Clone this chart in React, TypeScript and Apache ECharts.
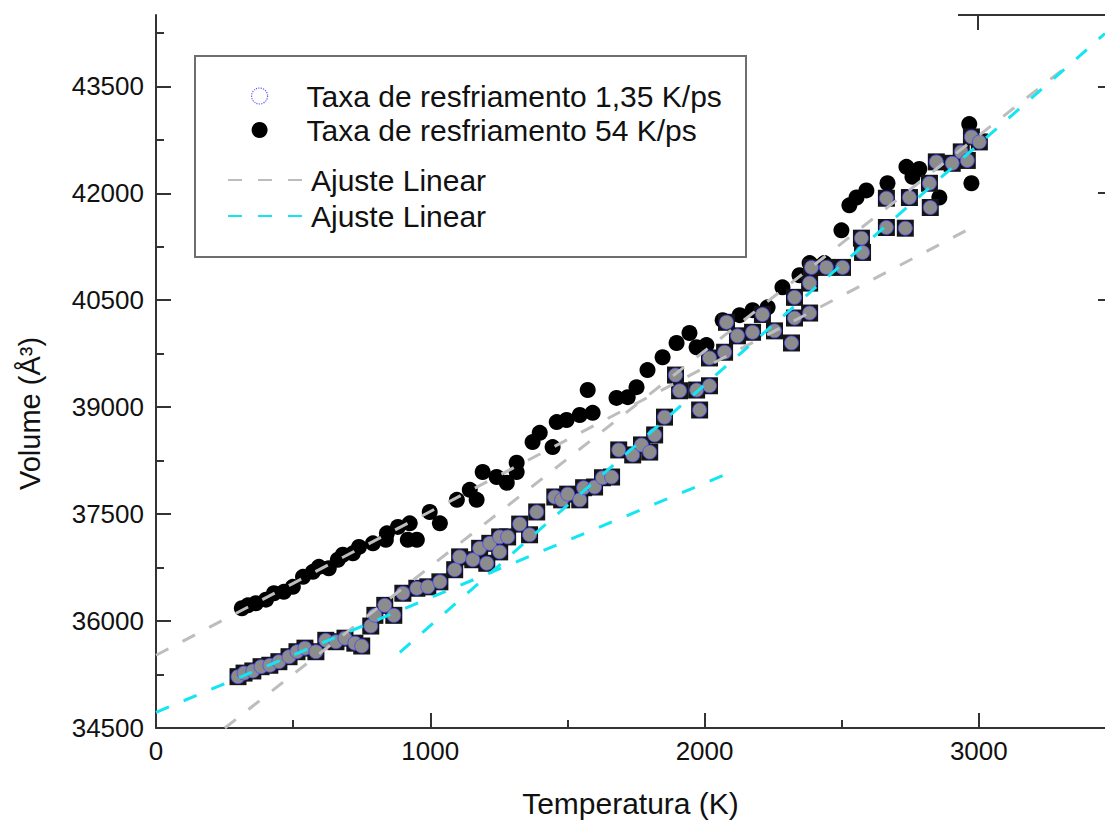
import React, { useEffect, useRef } from "react";
import * as echarts from "echarts";

// Cooling rate 1,35 K/ps (squares)
const slowT = [299, 321, 353, 383, 415, 448, 485, 514, 543, 583, 619, 656, 689, 725, 750, 783, 798, 834, 867, 900, 951, 991, 1035, 1089, 1107, 1155, 1180, 1206, 1217, 1253, 1253, 1282, 1326, 1362, 1388, 1454, 1479, 1501, 1545, 1559, 1599, 1628, 1661, 1687, 1738, 1770, 1800, 1818, 1854, 1894, 1909, 1971, 1982, 2018, 2018, 2073, 2080, 2120, 2175, 2211, 2255, 2317, 2328, 2328, 2383, 2383, 2390, 2444, 2503, 2572, 2576, 2663, 2663, 2732, 2747, 2820, 2823, 2845, 2903, 2936, 2958, 2973, 3002];
const slowV = [35220, 35270, 35300, 35360, 35380, 35430, 35500, 35570, 35620, 35570, 35730, 35710, 35760, 35690, 35650, 35930, 36080, 36220, 36080, 36390, 36460, 36480, 36550, 36720, 36900, 36860, 37020, 36810, 37090, 36970, 37180, 37180, 37360, 37210, 37530, 37740, 37700, 37780, 37700, 37870, 37880, 38010, 38020, 38400, 38330, 38470, 38370, 38610, 38860, 39450, 39230, 39240, 38960, 39300, 39690, 39770, 40190, 40000, 40050, 40300, 40070, 39900, 40250, 40540, 40320, 40740, 40960, 40960, 40960, 41370, 41170, 41930, 41520, 41510, 41940, 42140, 41800, 42440, 42420, 42580, 42460, 42790, 42720];

// Cooling rate 54 K/ps (black circles)
const fastT = [313, 335, 364, 401, 430, 466, 499, 536, 572, 594, 630, 663, 681, 718, 740, 791, 838, 842, 882, 918, 925, 951, 998, 1035, 1097, 1144, 1169, 1191, 1242, 1279, 1315, 1315, 1373, 1399, 1446, 1461, 1497, 1545, 1574, 1592, 1679, 1720, 1752, 1792, 1847, 1898, 1945, 1971, 2007, 2066, 2128, 2175, 2230, 2284, 2346, 2383, 2437, 2499, 2528, 2554, 2590, 2667, 2736, 2758, 2783, 2856, 2965, 2973];
const fastV = [36180, 36220, 36250, 36300, 36390, 36410, 36480, 36620, 36690, 36760, 36740, 36860, 36930, 36950, 37040, 37090, 37140, 37230, 37320, 37140, 37370, 37140, 37530, 37370, 37700, 37840, 37700, 38090, 38020, 37940, 38220, 38090, 38510, 38640, 38440, 38790, 38820, 38890, 39240, 38920, 39130, 39140, 39280, 39520, 39700, 39900, 40040, 39840, 39870, 40220, 40290, 40360, 40400, 40680, 40850, 41020, 41020, 41480, 41830, 41940, 42040, 42140, 42370, 42230, 42340, 41940, 42970, 42140];

// Linear fits (end points)
const fitGrayAT = [0, 2985];
const fitGrayAV = [35520, 41540];
const fitGrayBT = [251, 3311];
const fitGrayBV = [34500, 43750];
const fitCyanAT = [0, 2073];
const fitCyanAV = [34720, 38050];
const fitCyanBT = [889, 3460];
const fitCyanBV = [35560, 44240];

// Axis ticks
const xLabelValues = [0, 1000, 2000, 3000];
const xTickValues = [1000, 2000, 3000];
const xMinorTickValues = [500, 1500, 2500];
const yLabelValues = [34500, 36000, 37500, 39000, 40500, 42000, 43500];
const yTickValues = [36000, 37500, 39000, 40500, 42000, 43500];
const yMinorTickValues = [35250, 36750, 38250, 39750, 41250, 42750, 44250];

const NAME_SLOW = "Taxa de resfriamento 1,35 K/ps";
const NAME_FAST = "Taxa de resfriamento 54 K/ps";
const NAME_FIT_GRAY = "Ajuste Linear #1";
const NAME_FIT_CYAN = "Ajuste Linear #2";
const FIT_LABEL = "Ajuste Linear";

const zip = (a: number[], b: number[]) => a.map((v, i) => [v, b[i]]);

const FONT = '"Liberation Sans", Arial, sans-serif';
const AX = "#333";
const GRAY = "#bdbdbd";
const CYAN = "#12e6f2";
const DASH = [14, 16];

export default function App() {
  const ref = useRef<HTMLDivElement>(null);
  useEffect(() => {
    if (!ref.current) return;
    const chart = echarts.init(ref.current, undefined, { renderer: "svg" });
    const fitLine = (name: string, t: number[], v: number[], color: string) => ({
      type: "line",
      name,
      data: zip(t, v),
      symbol: "none",
      showSymbol: false,
      color,
      lineStyle: { color, width: 3, type: DASH },
      z: 6,
      silent: true,
    });
    const line = { lineStyle: { color: AX, width: 2 } };
    chart.setOption({
      animation: false,
      backgroundColor: "#ffffff",
      textStyle: { fontFamily: FONT },
      grid: { left: 156, top: 15, width: 950, height: 713 },
      xAxis: [
        {
          type: "value",
          position: "bottom",
          min: 0,
          max: 3460,
          name: "Temperatura (K)",
          nameLocation: "middle",
          nameGap: 60,
          nameTextStyle: { fontSize: 30, color: "#111", fontFamily: FONT },
          axisLine: line,
          axisTick: { inside: true, length: 15, customValues: xTickValues, ...line },
          splitLine: { show: false },
          axisLabel: {
            fontSize: 26,
            color: "#111",
            margin: 10,
            fontFamily: FONT,
            customValues: xLabelValues,
            formatter: (v: number) => String(v),
          },
        },
        {
          type: "value",
          position: "bottom",
          min: 0,
          max: 3460,
          axisLine: { show: false },
          axisTick: { inside: true, length: 8, customValues: xMinorTickValues, ...line },
          axisLabel: { show: false },
          splitLine: { show: false },
        },
      ],
      yAxis: [
        {
          type: "value",
          position: "left",
          min: 34500,
          max: 44500,
          name: "Volume (Å³)",
          nameLocation: "middle",
          nameGap: 112,
          nameTextStyle: { fontSize: 29, color: "#111", fontFamily: FONT, padding: [0, 84, 0, 0] },
          axisLine: line,
          axisTick: { inside: true, length: 15, customValues: yTickValues, ...line },
          splitLine: { show: false },
          axisLabel: {
            fontSize: 26,
            color: "#111",
            margin: 12,
            fontFamily: FONT,
            customValues: yLabelValues,
            formatter: (v: number) => String(v),
          },
        },
        {
          type: "value",
          position: "left",
          min: 34500,
          max: 44500,
          axisLine: { show: false },
          axisTick: { inside: true, length: 8, customValues: yMinorTickValues, ...line },
          axisLabel: { show: false },
          splitLine: { show: false },
        },
      ],
      legend: [
        {
          data: [
            { name: NAME_SLOW, icon: "circle", itemStyle: { color: "#ffffff", borderColor: "#5a5aff", borderWidth: 1.2, borderType: "dotted" } },
            { name: NAME_FAST, icon: "circle", itemStyle: { color: "#000000" } },
          ],
          orient: "vertical",
          left: 246,
          top: 76,
          itemWidth: 84,
          itemHeight: 16,
          itemGap: 4,
          selectedMode: false,
          textStyle: { fontSize: 30, color: "#111", lineHeight: 30, fontFamily: FONT },
        },
        {
          data: [NAME_FIT_GRAY, NAME_FIT_CYAN],
          orient: "vertical",
          left: 222,
          top: 160,
          itemWidth: 78,
          itemHeight: 16,
          itemGap: 6,
          selectedMode: false,
          itemStyle: { opacity: 0 },
          formatter: () => FIT_LABEL,
          textStyle: { fontSize: 30, color: "#111", lineHeight: 30, fontFamily: FONT },
        },
      ],
      graphic: [
        { type: "rect", shape: { x: 195, y: 56, width: 551, height: 201 }, style: { fill: "none", stroke: "#6e6e6e", lineWidth: 2 }, z: 0 },
        { type: "line", shape: { x1: 958, y1: 15, x2: 1105, y2: 15 }, style: { stroke: AX, lineWidth: 2 } },
        { type: "line", shape: { x1: 978, y1: 15, x2: 978, y2: 30 }, style: { stroke: AX, lineWidth: 2 } },
        { type: "line", shape: { x1: 1098, y1: 87, x2: 1105, y2: 87 }, style: { stroke: AX, lineWidth: 2 } },
        { type: "line", shape: { x1: 1098, y1: 193, x2: 1105, y2: 193 }, style: { stroke: AX, lineWidth: 2 } },
        { type: "line", shape: { x1: 1098, y1: 300, x2: 1105, y2: 300 }, style: { stroke: AX, lineWidth: 2 } },
      ],
      series: [
        {
          type: "scatter",
          name: NAME_FAST,
          data: zip(fastT, fastV),
          symbol: "circle",
          symbolSize: 16,
          itemStyle: { color: "#000000", opacity: 1 },
          z: 2,
        },
        {
          type: "scatter",
          name: "frame",
          data: zip(slowT, slowV),
          symbol: "rect",
          symbolSize: 17,
          itemStyle: { color: "#151515", opacity: 1 },
          z: 3,
        },
        {
          type: "scatter",
          name: NAME_SLOW,
          data: zip(slowT, slowV),
          symbol: "circle",
          symbolSize: 14,
          itemStyle: { color: "#8c8c8c", borderColor: "#4646ff", borderWidth: 0.8, opacity: 1 },
          z: 4,
        },
        fitLine(NAME_FIT_GRAY, fitGrayAT, fitGrayAV, GRAY),
        fitLine(NAME_FIT_GRAY, fitGrayBT, fitGrayBV, GRAY),
        fitLine(NAME_FIT_CYAN, fitCyanAT, fitCyanAV, CYAN),
        fitLine(NAME_FIT_CYAN, fitCyanBT, fitCyanBV, CYAN),
      ],
    });
    return () => chart.dispose();
  }, []);
  return (
    <div
      ref={ref}
      style={{ position: "fixed", left: 0, top: 0, width: 1105, height: 823, background: "#fff" }}
    />
  );
}
